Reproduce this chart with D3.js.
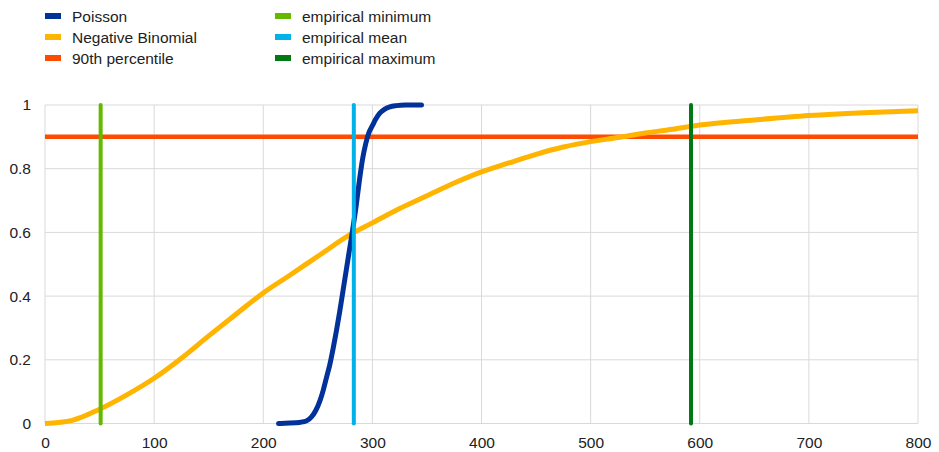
<!DOCTYPE html>
<html><head><meta charset="utf-8">
<script src="https://cdn.jsdelivr.net/npm/d3@7"></script>
<style>body{margin:0;background:#fff;}svg{display:block;font-family:"Liberation Sans",Arial,sans-serif;}</style>
</head><body><svg id="c" width="939" height="452"></svg>
<script>
const xTicks = [0,100,200,300,400,500,600,700,800];
const yTicks = [0,0.2,0.4,0.6,0.8,1];
const yTickLabels = ["0","0.2","0.4","0.6","0.8","1"];
const nbX = [0,25,50,75,100,125,150,175,200,225,250,281,300,325,350,375,400,425,450,475,500,525,550,575,600,650,700,750,800];
const nbY = [0,0.01,0.045,0.09,0.142,0.205,0.275,0.343,0.41,0.467,0.525,0.596,0.63,0.675,0.715,0.755,0.79,0.818,0.845,0.868,0.885,0.898,0.912,0.924,0.937,0.953,0.967,0.976,0.982];
const poX = [214,220,230,236,240,244,248,252,255,258,261,264,267,270,273,276,279,282,285,288,291,294,297,300,303,307,311,316,322,330,345];
const poY = [0,0.001,0.002,0.005,0.009,0.02,0.04,0.072,0.105,0.145,0.185,0.235,0.29,0.35,0.415,0.48,0.545,0.61,0.68,0.76,0.83,0.88,0.915,0.935,0.955,0.975,0.986,0.994,0.998,1,1];
const percentile90 = 0.9;
const empMin = 51, empMean = 283, empMax = 592;
const legendNames = ["Poisson","Negative Binomial","90th percentile","empirical minimum","empirical mean","empirical maximum"];
const legendColors = ["#003299","#FFB400","#FF4B00","#65B800","#00B1EA","#007816"];

const svg = d3.select("#c");
const x = d3.scaleLinear().domain([0,800]).range([45,918]);
const y = d3.scaleLinear().domain([0,1]).range([423.5,105]);

svg.append("g").selectAll("line").data(yTicks).join("line")
  .attr("x1",x(0)).attr("x2",x(800)).attr("y1",d=>y(d)).attr("y2",d=>y(d))
  .attr("stroke","#d9d9d9").attr("stroke-width",1);
svg.append("g").selectAll("line").data(xTicks).join("line")
  .attr("x1",d=>x(d)).attr("x2",d=>x(d)).attr("y1",y(0)).attr("y2",y(1))
  .attr("stroke","#d9d9d9").attr("stroke-width",1);

const xAxis = d3.axisBottom(x).tickValues(xTicks).tickSize(0).tickPadding(13).tickFormat(d3.format("d"));
const gx = svg.append("g").attr("transform",`translate(0,${y(0)})`).call(xAxis);
gx.select(".domain").remove();
gx.selectAll("text").attr("font-size",15.5).attr("fill","#222").attr("font-family","Liberation Sans, Arial, sans-serif");
const yAxis = d3.axisLeft(y).tickValues(yTicks).tickSize(0).tickPadding(14).tickFormat((d,i)=>yTickLabels[i]);
const gy = svg.append("g").attr("transform",`translate(${x(0)},0)`).call(yAxis);
gy.select(".domain").remove();
gy.selectAll("text").attr("font-size",15.5).attr("fill","#222").attr("font-family","Liberation Sans, Arial, sans-serif");

const line = d3.line().x(d=>x(d[0])).y(d=>y(d[1])).curve(d3.curveMonotoneX);

svg.append("line").attr("x1",x(0)).attr("x2",x(800)).attr("y1",y(percentile90)).attr("y2",y(percentile90))
  .attr("stroke",legendColors[2]).attr("stroke-width",4.5);
svg.append("path").datum(nbX.map((v,i)=>[v,nbY[i]])).attr("d",line)
  .attr("fill","none").attr("stroke",legendColors[1]).attr("stroke-width",5);
[[empMin,3],[empMax,5]].forEach(([v,ci])=>{
  svg.append("line").attr("x1",x(v)).attr("x2",x(v)).attr("y1",y(0)).attr("y2",y(1))
    .attr("stroke",legendColors[ci]).attr("stroke-width",4).attr("stroke-linecap","round");
});
svg.append("path").datum(poX.map((v,i)=>[v,poY[i]])).attr("d",line)
  .attr("fill","none").attr("stroke",legendColors[0]).attr("stroke-width",5).attr("stroke-linecap","round");
svg.append("line").attr("x1",x(empMean)).attr("x2",x(empMean)).attr("y1",y(0)).attr("y2",y(1))
  .attr("stroke",legendColors[4]).attr("stroke-width",4).attr("stroke-linecap","round");

const lg = svg.append("g");
legendNames.forEach((n,i)=>{
  const col = Math.floor(i/3), row = i%3;
  const lx = col===0 ? 45 : 275, ly = 16 + row*21;
  lg.append("rect").attr("x",lx).attr("y",ly-3).attr("width",16).attr("height",6).attr("fill",legendColors[i]);
  lg.append("text").attr("x",lx+27).attr("y",ly+5.5).attr("font-size",15.5).attr("fill","#222").text(n);
});
</script></body></html>
